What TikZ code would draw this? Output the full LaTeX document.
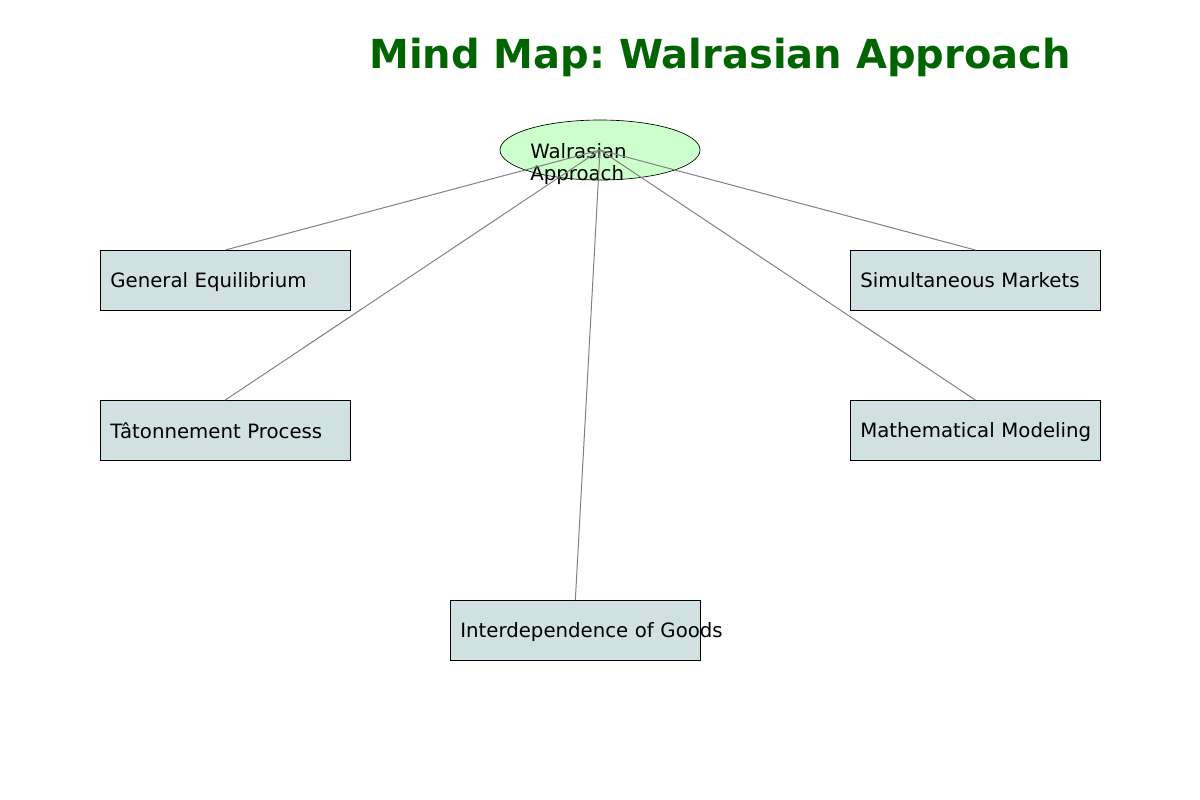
\documentclass[tikz,border=0pt]{standalone}
\usepackage{fontspec}
\setmainfont{DejaVu Sans}
\usepackage{xcolor}
\usetikzlibrary{shapes.geometric}
\frenchspacing
\definecolor{titlegreen}{RGB}{0,100,0}
\definecolor{rootfill}{RGB}{204,255,204}
\definecolor{topicfill}{RGB}{209,224,224}
\tikzset{
  topic/.style={draw=black, fill=topicfill, line width=0.5pt, rectangle,
    inner xsep=7.5pt, inner ysep=0pt, text width=172.5pt, minimum height=45pt,
    text depth=0pt, align=left, anchor=north west, font=\fontsize{14.8}{17}\selectfont},
  branch/.style={draw=gray, line width=0.75pt}
}

\begin{document}
\begin{tikzpicture}[x=0.75pt,y=-0.75pt]
\useasboundingbox (0,0) rectangle (1200,800);
\node [anchor=base, text=titlegreen, font=\fontsize{30}{36}\selectfont\bfseries] (title) at (720,68) {Mind Map: Walrasian Approach};
\node [ellipse, draw=black, fill=rootfill, line width=0.5pt, minimum width=150pt, minimum height=45pt, inner sep=0pt] (root) at (600,150) {};
\node [anchor=base west, align=left, inner sep=0pt, font=\fontsize{14.8}{16.5}\selectfont] (rootlabel) at (530,180) {Walrasian\\Approach};
\node [topic] (equil) at (100,250) {\mbox{General Equilibrium}};
\node [topic] (taton) at (100,400) {\mbox{Tâtonnement Process}};
\node [topic] (simul) at (850,250) {\mbox{Simultaneous Markets}};
\node [topic] (model) at (850,400) {\mbox{Mathematical Modeling}};
\node [topic] (goods) at (450,600) {\mbox{Interdependence of Goods}};
\draw [branch] (root.center) -- (equil.north);
\draw [branch] (root.center) -- (taton.north);
\draw [branch] (root.center) -- (simul.north);
\draw [branch] (root.center) -- (model.north);
\draw [branch] (root.center) -- (goods.north);
\end{tikzpicture}
\end{document}
